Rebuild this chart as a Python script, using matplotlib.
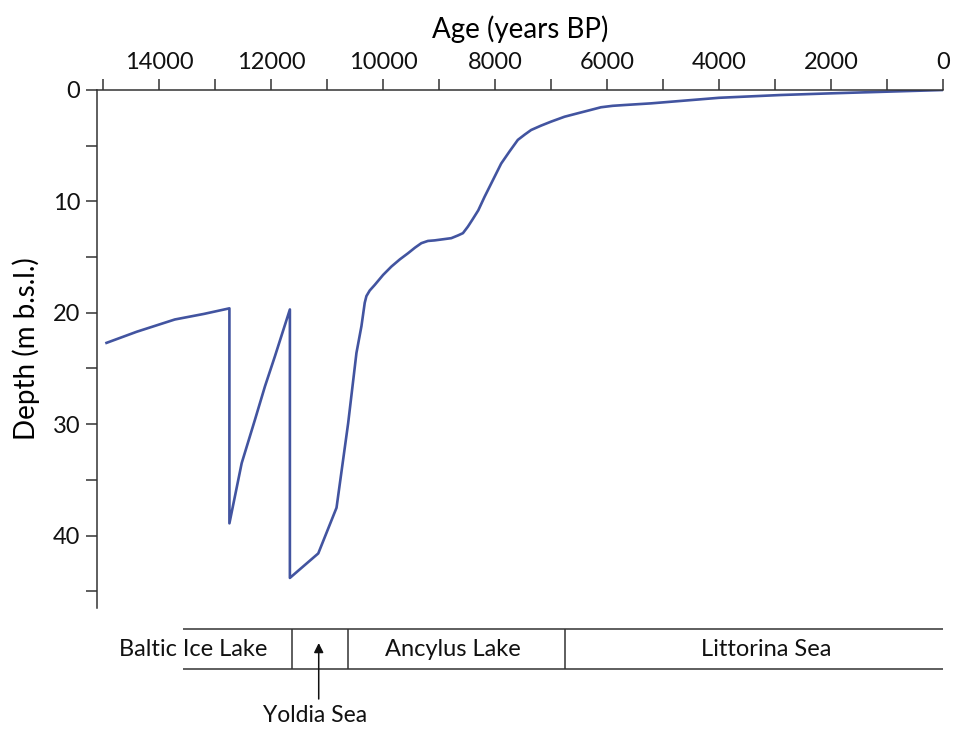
import matplotlib.pyplot as plt
from matplotlib.ticker import MultipleLocator

# curva de nível do mar (idade em anos BP, profundidade em m)
idade = [14940, 14400, 13720, 13200, 12745, 12745, 12526, 12289, 12110, 11932,
         11665, 11665, 11158, 10832, 10624, 10476, 10387, 10328, 10298, 10239,
         10150, 10000, 9852, 9700, 9554, 9430, 9317, 9200, 9080, 8930, 8782,
         8660, 8574, 8485, 8400, 8300, 8189, 8040, 7891, 7740, 7594, 7470,
         7356, 7180, 7000, 6760, 6524, 6300, 6109, 5900, 5693, 5217, 4000,
         2900, 2000, 1000, 0]
profundidade = [22.7, 21.7, 20.6, 20.1, 19.6, 38.9, 33.5, 29.6, 26.6, 23.9,
                19.7, 43.8, 41.6, 37.5, 29.9, 23.6, 21.2, 19.1, 18.5, 18.0,
                17.5, 16.6, 15.85, 15.2, 14.65, 14.15, 13.75, 13.55, 13.5, 13.4,
                13.3, 13.05, 12.85, 12.26, 11.6, 10.8, 9.6, 8.1, 6.6, 5.5, 4.48,
                4.0, 3.59, 3.2, 2.84, 2.4, 2.09, 1.8, 1.55, 1.42, 1.35, 1.2,
                0.7, 0.45, 0.3, 0.15, 0.0]

# fases do Báltico
fases = ["Baltic Ice Lake", "Ancylus Lake", "Littorina Sea"]
fases_x = [13400, 8750, 3150]
divisoes = [11620, 10620, 6750]
faixa_inicio, faixa_fim = 13570, 0
yoldia_x = 11150

plt.rcParams['font.family'] = ['Lato', 'DejaVu Sans']
fig = plt.figure(figsize=(9.54, 7.31), dpi=100)
ax = fig.add_axes([97/954, 1-608/731, 846/954, 518/731])

ax.plot(idade, profundidade, color='#4254a0', lw=1.9)
ax.set_xlim(15110, 0)
ax.set_ylim(46.5, 0)
ax.xaxis.tick_top()
ax.xaxis.set_label_position('top')
ax.xaxis.set_major_locator(MultipleLocator(2000))
ax.xaxis.set_minor_locator(MultipleLocator(1000))
ax.yaxis.set_major_locator(MultipleLocator(10))
ax.yaxis.set_minor_locator(MultipleLocator(5))
for s in ['bottom', 'right']:
    ax.spines[s].set_visible(False)
for s in ['top', 'left']:
    ax.spines[s].set_color('#333333')
    ax.spines[s].set_linewidth(1.1)
ax.tick_params(which='both', length=8, width=1.1, color='#333333',
               labelsize=17, labelcolor='#111111', pad=4)
ax.set_xlabel("Age (years BP)", fontsize=20, labelpad=10)
ax.set_ylabel("Depth (m b.s.l.)", fontsize=20, labelpad=9)

# faixa das fases, em baixo
bx = fig.add_axes([97/954, 0, 846/954, 116/731], sharex=ax)
bx.set_ylim(731, 615)
bx.axis('off')
bx.hlines([629, 669], faixa_inicio, faixa_fim, color='#333333', lw=1.1)
bx.vlines(divisoes, 629, 669, color='#333333', lw=1.1)
for nome, x in zip(fases, fases_x):
    bx.text(x, 649, nome, ha='center', va='center', fontsize=17, color='#111111')
bx.annotate("", xy=(yoldia_x, 643), xytext=(yoldia_x, 699),
            arrowprops=dict(arrowstyle='-|>', color='#111111', lw=1.1,
                            mutation_scale=14, shrinkA=0, shrinkB=0))
bx.text(yoldia_x + 60, 716, "Yoldia Sea", ha='center', va='center',
        fontsize=16.5, color='#111111')
ax.set_xlim(15110, 0)

fig.savefig("out.png", dpi=100)
